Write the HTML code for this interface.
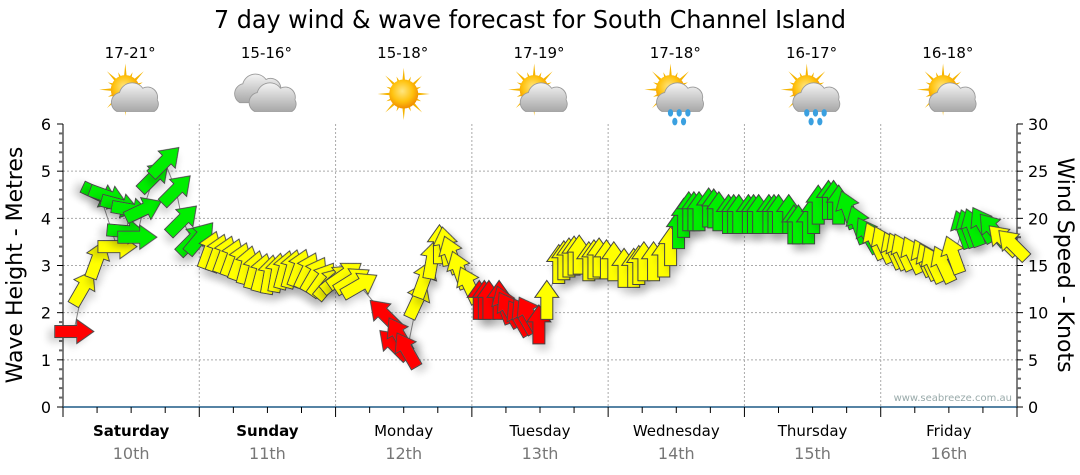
<!DOCTYPE html>
<html><head><meta charset="utf-8"><style>
html,body{margin:0;padding:0;background:#fff;}
svg{display:block;font-family:"DejaVu Sans","Liberation Sans",sans-serif;}
</style></head><body>
<svg id="chart" width="1080" height="475" viewBox="0 0 1080 475" xmlns="http://www.w3.org/2000/svg">
<defs>
<filter id="sh" x="-50%" y="-50%" width="200%" height="200%"><feGaussianBlur in="SourceAlpha" stdDeviation="4"/><feOffset dx="4" dy="6"/><feComponentTransfer><feFuncA type="linear" slope="0.18"/></feComponentTransfer><feMerge><feMergeNode/><feMergeNode in="SourceGraphic"/></feMerge></filter>
<radialGradient id="sunG" cx="0.45" cy="0.4" r="0.6"><stop offset="0" stop-color="#ffe680"/><stop offset="0.6" stop-color="#ffc20e"/><stop offset="1" stop-color="#f08c00"/></radialGradient>
<linearGradient id="cloudG" x1="0" y1="0" x2="0" y2="1"><stop offset="0" stop-color="#f4f4f4"/><stop offset="1" stop-color="#a8a8a8"/></linearGradient>
</defs>
<text x="530" y="28" font-size="25" text-anchor="middle" textLength="632" lengthAdjust="spacingAndGlyphs" fill="#000">7 day wind &amp; wave forecast for South Channel Island</text>
<g id="weather"></g>
<g id="grid"></g>
<g id="axes"></g>
<g id="marks"></g>
<text transform="translate(22,265) rotate(-90)" font-size="22" text-anchor="middle">Wave Height - Metres</text>
<text transform="translate(1058,265) rotate(90)" font-size="22" text-anchor="middle">Wind Speed - Knots</text>
<text x="1012" y="401" font-size="10" text-anchor="end" fill="#9aa">www.seabreeze.com.au</text>
</svg>
<script>
const dayNames=["Saturday","Sunday","Monday","Tuesday","Wednesday","Thursday","Friday"];
const dayDates=["10th","11th","12th","13th","14th","15th","16th"];
const temps=["17-21°","15-16°","15-18°","17-19°","17-18°","16-17°","16-18°"];
const icons=["suncloud","cloud","sun","suncloud","rain","rain","suncloud"];
const leftTicks=[0,1,2,3,4,5,6];
const rightTicks=[0,5,10,15,20,25,30];
const hours=[1.9,3.5,6,9.5,6.5,7.9,10,11.9,11.1,13,14.1,16,17.9,19.9,21,22.8,24.1,
25.8,27.2,28.5,29.8,31.1,32.4,33.7,35,36.4,37.7,39,40.3,41.6,43,44.3,45.6,46.9,
48.3,49.6,50.9,52.2,56.6,58.3,59.2,60.6,62.4,63.6,65,66.3,67.4,68.4,69.8,71.5,
73.3,74.2,75,76.8,77.7,78.6,80.3,81.2,82.1,83.8,85.2,87.3,88.2,89.1,90,90.9,92.6,93.5,94.4,95.7,
97,98.8,100.5,101.4,102.3,104,105.8,107,108.4,109.3,110.2,111.1,112,113.7,114.6,115.5,117.2,118.1,119,
120.7,121.6,122.5,124.3,125.2,126,127.8,128.7,129.5,131.3,132.2,133,134.8,135.7,136.6,138.3,140.1,141.8,
143,144.5,146.2,147.1,148,149.7,151.5,152.4,153.3,155,156.8,158.5,159.4,160.3,162,163.8,165.6,167.3];
const knots=[8,12.6,15.6,17,22.5,22.3,21.4,20.9,18.6,18,20.9,24.4,26,23,19.8,17.7,17.9,
16.6,16.3,16.1,15.8,15.4,15,14.5,14.2,14,14.2,14.5,14.6,14.7,14.4,14,13.5,13.1,
13.6,14,13.4,12.9,9.8,6.6,7.6,6,11.3,13.5,15.6,17.2,17,16.1,14.5,12.9,
11.3,11.3,11.3,11.3,10.8,10.3,9.4,9.6,9.8,8.7,11.3,15.1,15.5,15.8,16,16.1,15.4,15.6,15.8,15.6,
15.4,14.7,14.7,15,15.4,15.4,15.8,17,18.8,20,20.7,20.7,20.7,21.1,21,20.7,20.4,20.4,20.4,
20.4,20.4,20.4,20.4,20.4,20.4,20.4,19.3,19.3,19.3,20.4,21.4,21.9,21.9,21.4,20.9,19.3,18.2,
17.6,17.2,16.6,16.5,16.4,16.1,15.8,15.4,15.1,15.1,16.1,18.8,18.9,19,19.3,18.8,17.7,17.2];
const dirs=[90,30,20,90,115,110,105,100,95,90,65,45,45,45,45,45,40,
20,20,20,20,20,15,15,15,10,10,15,15,20,25,30,35,40,
50,55,58,60,315,315,330,330,25,20,10,0,350,340,340,335,
0,0,0,0,340,330,330,330,330,0,0,0,0,0,0,0,0,0,0,0,
0,0,0,0,0,0,0,0,0,0,0,0,0,0,0,0,0,0,0,
0,0,0,0,0,0,0,0,0,0,0,0,0,0,0,340,340,330,
335,335,335,335,335,335,335,335,335,335,340,340,340,340,330,320,315,315];
const cats=["R","Y","Y","Y","G","G","G","G","G","G","G","G","G","G","G","G","G",
"Y","Y","Y","Y","Y","Y","Y","Y","Y","Y","Y","Y","Y","Y","Y","Y","Y",
"Y","Y","Y","Y","R","R","R","R","Y","Y","Y","Y","Y","Y","Y","Y",
"R","R","R","R","R","R","R","R","R","R","Y","Y","Y","Y","Y","Y","Y","Y","Y","Y",
"Y","Y","Y","Y","Y","Y","Y","Y","G","G","G","G","G","G","G","G","G","G","G",
"G","G","G","G","G","G","G","G","G","G","G","G","G","G","G","G","G","G",
"Y","Y","Y","Y","Y","Y","Y","Y","Y","Y","Y","G","G","G","G","G","Y","Y"];
const X0=63,X1=1017,Y0=407,Y1=124;
const xS=h=>X0+h*(X1-X0)/168;
const yM=m=>Y0-m*(Y0-Y1)/6;
const yK=k=>Y0-k*(Y0-Y1)/30;
const NS="http://www.w3.org/2000/svg";
function mk(tag,attrs,parent){const e=document.createElementNS(NS,tag);for(const k in attrs)e.setAttribute(k,attrs[k]);parent.appendChild(e);return e;}
const grid=document.getElementById('grid'),axes=document.getElementById('axes'),marks=document.getElementById('marks'),wx=document.getElementById('weather');
leftTicks.forEach(m=>{if(m>0&&m<6){const l=mk('line',{x1:X0,x2:X1,y1:yM(m),y2:yM(m),stroke:'#aaa','stroke-dasharray':'2,2'},grid);}});
for(let d=1;d<7;d++){const l=mk('line',{x1:xS(d*24),x2:xS(d*24),y1:Y1,y2:Y0,stroke:'#aaa','stroke-dasharray':'2,2'},grid);}
mk('line',{x1:X0,x2:X0,y1:Y1,y2:Y0+1,stroke:'#000'},axes);
mk('line',{x1:X1,x2:X1,y1:Y1,y2:Y0+1,stroke:'#000'},axes);
mk('line',{x1:X0,x2:X1,y1:Y0,y2:Y0,stroke:'#1f5a85','stroke-width':1.5},axes);
for(let i=0;i<=30;i++){const m=i/5;const y=yM(m);const maj=i%5==0;
mk('line',{x1:X0-(maj?6:4),x2:X0,y1:y,y2:y,stroke:maj?'#000':'#666','stroke-width':maj?1:2},axes);
mk('line',{x1:X1,x2:X1+(maj?6:4),y1:y,y2:y,stroke:maj?'#000':'#666','stroke-width':maj?1:2},axes);}
leftTicks.forEach(m=>{const t=mk('text',{x:X0-12,y:yM(m)+6,'font-size':16,'text-anchor':'end'},axes);t.textContent=m;});
rightTicks.forEach(k=>{const t=mk('text',{x:X1+11,y:yK(k)+6,'font-size':16},axes);t.textContent=k;});
for(let h=0;h<=168;h+=6){const x=xS(h);const maj=h%24==0;mk('line',{x1:x,x2:x,y1:Y0,y2:Y0+(maj?10:6),stroke:'#000'},axes);}
dayNames.forEach((n,i)=>{const cx=xS(i*24+12);
const t=mk('text',{x:cx,y:436,'font-size':15,'text-anchor':'middle','font-weight':i<2?'bold':'normal'},axes);t.textContent=n;
const d=mk('text',{x:cx,y:459,'font-size':16,'text-anchor':'middle',fill:'#777'},axes);d.textContent=dayDates[i];
const tp=mk('text',{x:cx-1,y:58,'font-size':15,'text-anchor':'middle'},wx);tp.textContent=temps[i];
const g=mk('g',{transform:`translate(${cx},94) scale(1.45)`},wx);
const ic=icons[i];
if(ic!=='cloud'){const sx=ic==='sun'?0:-4,sy=ic==='sun'?0:-3;
for(let a=0;a<360;a+=22.5){const r=a*Math.PI/180;const L=(a/22.5)%2?13:18;mk('polygon',{points:`${sx+Math.cos(r-0.13)*8},${sy+Math.sin(r-0.13)*8} ${sx+Math.cos(r)*L},${sy+Math.sin(r)*L} ${sx+Math.cos(r+0.13)*8},${sy+Math.sin(r+0.13)*8}`,fill:'#f5b400'},g);}
mk('circle',{cx:sx,cy:sy,r:10,fill:'url(#sunG)'},g);}
function cloud(ox,oy,s){mk('path',{d:`M${ox-13*s},${oy+8*s} a7 7 0 0 1 2,-13 a9 9 0 0 1 16,-3 a7 7 0 0 1 10,8 a6 6 0 0 1 -2,8 z`,fill:'url(#cloudG)',stroke:'#999','stroke-width':0.6},g);}
if(ic==='cloud'){cloud(-6,-2,1);cloud(4,4,1);}
else if(ic!=='sun'){cloud(3,4,1);}
if(ic==='rain'){[[-4,13],[2,13],[8,13],[-1,19],[5,19]].forEach(p=>mk('ellipse',{cx:p[0],cy:p[1],rx:1.8,ry:2.6,fill:'#3aa0e0'},g));}
});
let pts=hours.map((h,i)=>`${xS(h)},${yK(knots[i])}`).join(' ');
const pl=mk('polyline',{points:pts,fill:'none',stroke:'#888','stroke-width':1},marks);

const col={R:'#ff0000',Y:'#ffff00',G:'#00ee00'};
hours.forEach((h,i)=>{
const a=mk('polygon',{points:'0,-20 12,-3 6,-3 6,19 -6,19 -6,-3 -12,-3',fill:col[cats[i]],stroke:'#444','stroke-width':1,'stroke-linejoin':'miter',filter:'url(#sh)',transform:`translate(${xS(h)},${yK(knots[i])}) rotate(${dirs[i]})`},marks);


});
</script>
</body></html>
